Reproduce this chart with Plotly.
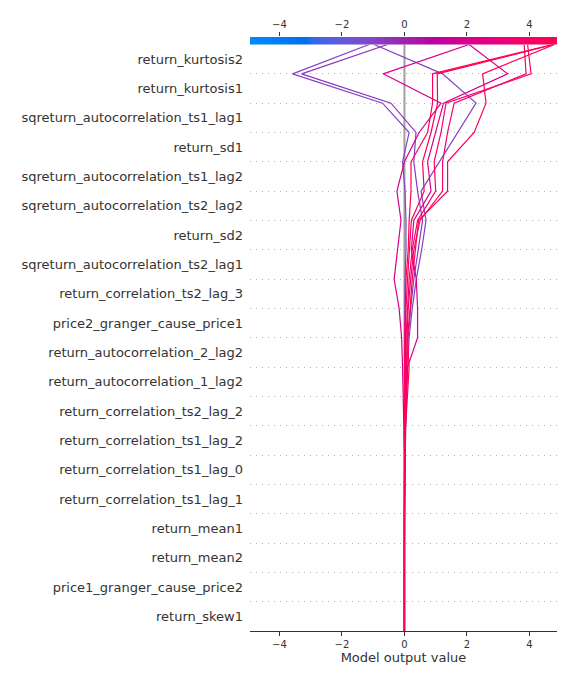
import numpy as np
import plotly.graph_objects as go
from plotly.colors import sample_colorscale

# Features, listed top to bottom as in the decision plot
features = [
    "return_kurtosis2", "return_kurtosis1", "sqreturn_autocorrelation_ts1_lag1",
    "return_sd1", "sqreturn_autocorrelation_ts1_lag2", "sqreturn_autocorrelation_ts2_lag2",
    "return_sd2", "sqreturn_autocorrelation_ts2_lag1", "return_correlation_ts2_lag_3",
    "price2_granger_cause_price1", "return_autocorrelation_2_lag2",
    "return_autocorrelation_1_lag2", "return_correlation_ts2_lag_2",
    "return_correlation_ts1_lag_2", "return_correlation_ts1_lag_0",
    "return_correlation_ts1_lag_1", "return_mean1", "return_mean2",
    "price1_granger_cause_price2", "return_skew1",
]

# Model output value at each feature boundary, from the top (final prediction)
# down to the bottom (base value) -- 21 values per observation
obs_a = [-1.13, -3.58, -0.70, 0.15, -0.06, 0.02, 0.05, 0.05, 0.02, 0.01, 0.00, 0.00, 0.00, 0.00, 0.00, 0, 0, 0, 0, 0, 0]
obs_b = [-0.54, -3.29, -0.43, 0.37, 0.30, 0.42, 0.58, 0.45, 0.30, 0.20, 0.12, 0.08, 0.05, 0.03, 0.01, 0, 0, 0, 0, 0, 0]
obs_c = [-0.97, 1.22, 2.29, 1.70, 1.12, 0.53, 0.69, 0.55, 0.38, 0.25, 0.15, 0.10, 0.06, 0.04, 0.02, 0, 0, 0, 0, 0, 0]
obs_d = [2.07, -0.68, 1.17, 0.47, 0.00, -0.24, -0.11, -0.22, -0.33, -0.17, -0.09, -0.06, -0.04, -0.01, 0.00, 0, 0, 0, 0, 0, 0]
obs_e = [2.07, 3.30, 1.25, 1.00, 0.74, 0.85, 0.30, 0.22, 0.38, 0.42, 0.42, 0.10, 0.06, 0.03, 0.01, 0, 0, 0, 0, 0, 0]
obs_f = [3.83, 3.89, 1.59, 1.38, 1.22, 1.22, 0.50, 0.30, 0.20, 0.12, 0.08, 0.06, 0.04, 0.02, 0.01, 0, 0, 0, 0, 0, 0]
obs_g = [3.94, 4.05, 1.33, 1.17, 0.95, 1.00, 0.42, 0.25, 0.15, 0.10, 0.05, 0.04, 0.03, 0.02, 0.01, 0, 0, 0, 0, 0, 0]
obs_h = [4.75, 0.90, 0.90, 0.74, 0.21, 0.21, 0.15, 0.12, 0.05, 0.02, 0.01, 0.01, 0.00, 0.00, 0.00, 0, 0, 0, 0, 0, 0]
obs_i = [4.78, 1.05, 1.06, 0.85, 0.58, 0.63, 0.22, 0.15, 0.10, 0.05, 0.03, 0.02, 0.01, 0.01, 0.00, 0, 0, 0, 0, 0, 0]
obs_j = [4.80, 2.50, 2.61, 2.23, 1.38, 1.38, 0.45, 0.35, 0.25, 0.18, 0.10, 0.15, 0.10, 0.04, 0.02, 0, 0, 0, 0, 0, 0]

observations = [obs_a, obs_b, obs_c, obs_d, obs_e, obs_f, obs_g, obs_h, obs_i, obs_j]

base_value = 0.0
x_min, x_max = -4.94, 4.88
axis_ticks = [-4, -2, 0, 2, 4]


# ---- SHAP-like red/blue colormap built in LCH space ----
def lch2rgb(l, c, h):
    a = c * np.cos(h)
    b = c * np.sin(h)
    fy = (l + 16.0) / 116.0
    fx = fy + a / 500.0
    fz = fy - b / 200.0

    def finv(t):
        return np.where(t > 6 / 29, t ** 3, 3 * (6 / 29) ** 2 * (t - 4 / 29))

    X = 0.95047 * finv(fx)
    Y = 1.0 * finv(fy)
    Z = 1.08883 * finv(fz)
    r = 3.2404813 * X - 1.5371515 * Y - 0.4985363 * Z
    g = -0.9692549 * X + 1.8759900 * Y + 0.0415559 * Z
    bb = 0.0556466 * X - 0.2040413 * Y + 1.0573111 * Z
    rgb = np.array([r, g, bb], dtype=float)
    rgb = np.where(rgb > 0.0031308, 1.055 * np.abs(rgb) ** (1 / 2.4) - 0.055, 12.92 * rgb)
    return np.clip(rgb, 0, 1)


nsteps = 100
l_vals = list(np.linspace(54.0, 40.0, nsteps // 2)) + list(np.linspace(40.0, 54.0, nsteps // 2))
c_vals = np.linspace(70.0, 90.0, nsteps)
h_vals = np.linspace(4.6588, 0.35470565 + 2 * np.pi, nsteps)
colorscale = []
for pos, l, c, h in zip(np.linspace(0, 1, nsteps), l_vals, c_vals, h_vals):
    r, g, b = lch2rgb(l, c, h)
    colorscale.append([float(pos), f"rgb({int(round(r*255))},{int(round(g*255))},{int(round(b*255))})"])

n_feat = len(features)
levels = list(range(n_feat, -1, -1))  # 20 at top ... 0 at bottom

fig = go.Figure()

# colorbar strip at the top
cb_x = np.linspace(x_min, x_max, 400)
fig.add_trace(go.Heatmap(
    x=cb_x, y=[0], z=[cb_x], colorscale=colorscale, zmin=x_min, zmax=x_max,
    showscale=False, xaxis="x2", yaxis="y2", hoverinfo="skip",
))

# decision lines
for obs in observations:
    final = obs[0]
    t = (final - x_min) / (x_max - x_min)
    col = sample_colorscale(colorscale, [min(max(t, 0), 1)])[0]
    fig.add_trace(go.Scatter(
        x=obs, y=levels, mode="lines",
        line=dict(color=col, width=1.2),
        xaxis="x", yaxis="y", hoverinfo="skip",
    ))

# base value vertical line
fig.add_shape(type="line", xref="x", yref="y", x0=base_value, x1=base_value,
              y0=0, y1=n_feat, line=dict(color="#a0a0a0", width=2), layer="below")

m_l, m_r, m_t, m_b = 242, 27, 29, 61
plot_h = 684 - m_t - m_b
main_top = (plot_h - 7.5) / plot_h

fig.update_layout(
    width=576, height=684,
    margin=dict(l=m_l, r=m_r, t=m_t, b=m_b),
    paper_bgcolor="white", plot_bgcolor="white",
    showlegend=False,
    font=dict(family="DejaVu Sans", color="#333333"),
    xaxis=dict(
        domain=[0, 1], anchor="y", range=[x_min, x_max],
        tickvals=axis_ticks, ticks="outside", ticklen=4, tickcolor="#333333",
        showline=True, linecolor="#333333", linewidth=1,
        showgrid=False, zeroline=False, tickfont=dict(size=10),
        title=dict(text="Model output value", font=dict(size=13), standoff=2),
    ),
    yaxis=dict(
        domain=[0, main_top], anchor="x", range=[0, n_feat],
        tickvals=[n_feat - 0.5 - i for i in range(n_feat)], ticktext=features,
        ticks="", showgrid=False, zeroline=False, showline=False,
        tickfont=dict(size=13, color="#333333"), ticklabelstandoff=6,
        minor=dict(tickvals=list(range(1, n_feat)), showgrid=True,
                   gridcolor="#b0b0b0", griddash="1px,5px", gridwidth=1, ticks=""),
    ),
    xaxis2=dict(
        domain=[0, 1], anchor="y2", side="top", range=[x_min, x_max],
        tickvals=axis_ticks, ticks="outside", ticklen=4, tickcolor="#333333",
        showline=False, showgrid=False, zeroline=False, tickfont=dict(size=10),
    ),
    yaxis2=dict(
        domain=[main_top, 1], anchor="x2", range=[-0.5, 0.5],
        showticklabels=False, showgrid=False, zeroline=False, ticks="", showline=False,
    ),
)

fig.write_html("out.html")
